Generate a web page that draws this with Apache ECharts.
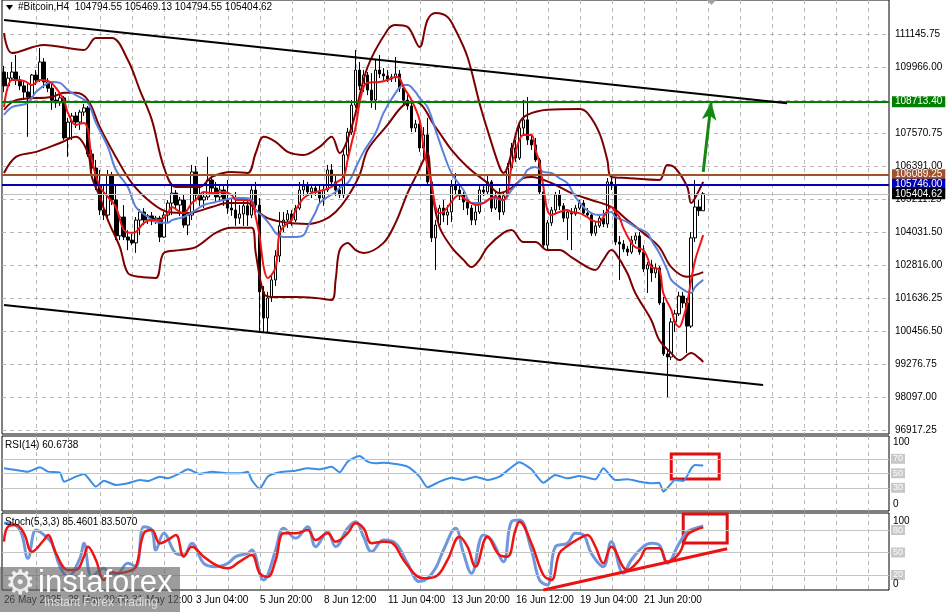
<!DOCTYPE html>
<html><head><meta charset="utf-8">
<script src="https://cdn.jsdelivr.net/npm/echarts@6/dist/echarts.min.js"></script>
<style>html,body{margin:0;padding:0;background:#fff}#c{width:946px;height:612px}</style>
</head><body><div id="c"></div>
<script>
// ---------- DATA ----------
const opens=[109780,109280,109560,109780,109490,109280,109060,108880,109670,109490,
110140,109420,109200,108770,108670,108850,107410,107980,108200,107980,
108340,108490,106830,106330,105680,104820,104640,106080,105180,103890,
104570,103850,103740,103640,104460,104750,104460,104610,104430,104530,
103850,104640,105070,105430,105000,105180,104280,104640,106190,105360,
105180,105290,105900,105610,105290,105540,105180,104890,104820,104530,
104680,104970,104640,105540,105000,101880,100940,101660,102310,103170,
104250,104460,104680,104460,104890,105540,105680,105470,105610,105470,
105250,105540,106260,105830,105540,105360,106800,107620,108590,109850,
109280,109670,109130,108770,109850,109710,109640,109530,109600,109710,
109200,108770,108560,107770,107910,107050,107520,105830,103820,104280,
104890,104640,104750,105680,105540,105360,105110,104890,104460,104750,
105540,105470,105830,104890,105330,104750,105330,106330,107050,106690,
107770,108060,107340,107160,106620,105470,103560,104360,104820,105360,
104970,104530,104750,104680,104890,105070,104710,104640,103990,104250,
104530,104320,105830,105720,103670,103600,103420,103310,103740,103890,
103310,102700,102850,102560,102740,101480,99650,99540,100800,101090,
101730,101480,100650,103820,104930,104794.55];
const highs=[110000,109780,110140,110390,109640,109490,109350,109710,109850,110640,
110280,109560,109350,109060,109060,108920,108130,108310,108340,108420,
108630,108560,106980,106620,106260,105680,106260,106190,105720,104640,
105000,104100,103960,104570,104860,104890,104680,104750,104610,104610,
104750,105180,105790,105540,105290,105360,104640,106440,106400,105610,
105430,106730,106120,105830,105720,105680,105900,105250,105470,105000,
105180,105250,105680,105830,105250,102090,101880,102490,103380,104750,
104750,104820,104820,105000,105830,105900,105830,105760,105760,105720,
105760,106440,106470,106080,105720,106980,107770,108770,110570,110140,
109850,109780,109740,110210,110390,109920,109850,109710,110320,109850,
109350,108950,108700,108060,108000,107800,108130,105900,104460,105000,
105180,105000,105900,106150,105720,105470,105250,105000,105000,105680,
105680,106080,105900,105470,105610,105470,106510,107230,107340,107980,
108770,108880,107520,107410,106690,105610,104460,104930,105470,105540,
105070,104820,104890,105000,105180,105180,104890,104710,104390,104640,
104820,105970,106040,105970,103890,103740,103530,103890,104000,104030,
103560,102950,103030,102900,102810,101700,99790,100940,101230,101880,
101880,101660,104030,105900,105180,105469.13];
const lows=[109060,109130,109490,109310,109130,108770,107450,108770,109310,109420,
109200,109060,108420,108490,108560,107340,106730,107340,107770,107700,
108200,106730,106190,105540,104640,104460,104530,105000,103740,103740,
103740,103380,103560,103280,103920,104280,104320,104280,104320,103670,
103820,104390,104640,104890,104610,104180,103920,104460,105180,104970,
104890,105180,105470,105110,105110,104970,104680,104610,104250,104320,
104250,104250,104530,104750,100400,100400,100440,101520,102090,102950,
104030,104180,104250,104390,104820,105330,105330,105250,105330,105040,
104970,105470,105610,105330,105250,105250,106690,107520,108490,109130,
109060,108950,108490,108420,109560,109490,109420,109420,109420,109060,
108630,108420,107620,107620,106910,106690,105720,103670,102670,104180,
104390,104280,104390,105360,105180,104820,104640,104280,104280,104680,
105330,105360,104750,104820,104460,104640,105250,106260,106550,106620,
107520,107160,106980,106550,105360,103460,103380,104250,104680,104820,
104390,103740,103380,104610,104820,104610,104530,103890,103890,104180,
104210,104180,105540,103560,102310,103310,103170,103240,103600,103210,
102590,101840,102240,102380,101410,99580,98100,99430,100440,101010,
101300,99680,100580,103670,104610,104794.55];
const closes=[109280,109560,109780,109490,109280,109060,108880,109670,109490,110140,
109420,109200,108770,108670,108850,107410,107980,108200,107980,108340,
108490,106830,106330,105680,104820,104640,106080,105180,103890,104570,
103850,103740,103640,104460,104750,104460,104610,104430,104530,103850,
104640,105070,105430,105000,105180,104280,104640,106190,105360,105180,
105290,105900,105610,105290,105540,105180,104890,104820,104530,104680,
104970,104640,105540,105000,101880,100940,101660,102310,103170,104250,
104460,104680,104460,104890,105540,105680,105470,105610,105470,105250,
105540,106260,105830,105540,105360,106800,107620,108590,109850,109280,
109670,109130,108770,109850,109710,109640,109530,109600,109710,109200,
108770,108560,107770,107910,107050,107520,105830,103820,104280,104890,
104640,104750,105680,105540,105360,105110,104890,104460,104750,105540,
105470,105830,104890,105330,104750,105330,106330,107050,106690,107770,
108060,107340,107160,106620,105470,103560,104360,104820,105360,104970,
104530,104750,104680,104890,105070,104710,104640,103990,104250,104530,
104320,105830,105720,103670,103600,103420,103310,103740,103890,103310,
102700,102850,102560,102740,101480,99650,99540,100800,101090,101730,
101480,100650,103820,104930,104794.55,105404.62];

const bbUpper=[[0,111180],[2,110460],[10,110750],[20,110570],[23,111000],[27,111000],[31,110210],[34,109130],[37,108060],[40,106370],[43,105650],[49,105650],[52,106010],[57,106190],[61,106150],[63,106870],[65,107450],[68,107270],[71,106910],[75,106800],[79,107090],[82,107450],[84,106870],[87,107800],[91,109960],[96,111290],[98,111470],[101,111400],[104,110680],[106,111650],[108,111900],[111,111760],[113,111290],[116,110320],[119,108670],[121,107700],[124,106370],[125,106150],[129,107950],[131,108240],[136,108420],[144,108450],[146,108310],[149,107590],[151,106620],[152,106010],[156,105970],[164,105900],[166,106440],[168,106330],[171,105650],[172,105070],[174,105540],[175,105830]];
const bbMiddle=[[0,108420],[3,108770],[12,108880],[15,109030],[18,109030],[21,108770],[24,107800],[28,106730],[32,105790],[37,105070],[41,104750],[46,104710],[52,104930],[56,105070],[61,105070],[63,104820],[66,104530],[71,104360],[76,104320],[80,104460],[83,104750],[86,105290],[89,106080],[91,106980],[96,107880],[100,108590],[103,108700],[108,107800],[112,106980],[116,106370],[121,105790],[124,105430],[127,105610],[130,105970],[132,106010],[137,105790],[142,105430],[147,105180],[152,104930],[156,104460],[160,104000],[164,103490],[167,102770],[171,102420],[173,102490],[175,102590]];
const bbLower=[[0,106150],[3,106730],[8,106910],[14,107230],[18,107450],[21,106870],[22,106010],[24,105290],[26,104460],[29,103490],[31,102560],[34,102420],[38,102380],[40,103280],[44,103380],[48,103490],[53,104000],[57,104180],[62,104180],[63,103280],[65,101840],[67,101700],[73,101700],[78,101660],[82,101590],[83,102310],[84,103380],[86,103640],[88,103380],[90,103280],[95,103640],[98,104360],[101,105430],[103,106010],[105,106620],[106,106870],[107,105650],[109,104210],[112,103490],[115,103030],[117,102770],[119,103030],[121,103490],[125,104000],[127,104100],[130,103670],[133,103670],[136,103380],[139,103380],[142,103130],[146,102770],[148,102670],[150,103030],[152,103380],[153,103280],[156,102560],[158,101840],[162,100870],[164,100150],[167,99680],[169,99430],[172,99680],[174,99500],[175,99360]];
const fastMA=[[0,108520],[2,109490],[5,109460],[7,109310],[9,109490],[11,109460],[13,109210],[15,108770],[16,108310],[18,107880],[20,107950],[21,107700],[22,106620],[24,105650],[26,105290],[28,104930],[30,104100],[32,104000],[33,104030],[35,104360],[37,104460],[39,104460],[41,104710],[42,104930],[44,104750],[45,104710],[47,105070],[48,105180],[50,105470],[52,105430],[55,105470],[57,105360],[58,105180],[60,105180],[62,105110],[63,104570],[64,103850],[65,102770],[66,102380],[68,102770],[69,104000],[71,104360],[72,104460],[73,104820],[75,105250],[77,105430],[78,105470],[80,105540],[82,105650],[83,105790],[85,106010],[86,106620],[87,107230],[88,107800],[89,108670],[90,109240],[91,109390],[94,109420],[96,109490],[98,109600],[99,109560],[100,109240],[102,108770],[104,108060],[105,107090],[106,106370],[107,105790],[108,104930],[109,104710],[110,104750],[112,105110],[113,105290],[114,105360],[115,105250],[117,105070],[118,105000],[120,105070],[121,105180],[123,105290],[125,105180],[126,105430],[127,106370],[128,106870],[129,107340],[130,107520],[132,107520],[133,107000],[134,106510],[135,105650],[136,104820],[137,104640],[139,104750],[141,104820],[142,104750],[144,104710],[146,104570],[147,104460],[149,104390],[150,104570],[152,104930],[153,104750],[154,104570],[155,104180],[157,103640],[158,103490],[160,103380],[161,103130],[162,102770],[164,102670],[165,101840],[167,101230],[168,100760],[169,100620],[170,100940],[171,101480],[172,102310],[173,103030],[174,103490],[175,103920]];
const slowMA=[[0,108240],[2,108520],[6,108670],[8,109060],[11,109390],[12,109420],[14,109390],[16,109130],[18,108950],[21,108670],[23,107950],[26,107090],[28,106260],[31,105650],[33,104930],[36,104570],[38,104390],[41,104360],[42,104460],[44,104530],[45,104570],[48,104820],[50,105000],[53,105110],[55,105180],[58,105250],[60,105250],[62,105180],[63,104820],[65,104570],[67,104210],[68,104000],[70,103850],[73,103850],[75,103920],[76,104210],[78,104750],[79,105070],[81,105290],[83,105470],[84,105610],[86,105790],[87,106010],[88,106330],[90,106910],[93,107590],[95,108310],[98,109030],[100,109310],[101,109310],[103,109060],[104,108850],[106,108520],[108,107700],[110,106870],[112,106150],[115,105540],[117,105070],[120,105070],[122,105250],[125,105180],[127,105540],[130,106010],[131,106260],[133,106370],[135,106190],[137,106150],[139,105970],[141,105790],[143,105290],[145,104930],[147,104710],[149,104640],[152,104750],[153,104570],[156,104390],[158,104210],[161,104000],[162,103740],[164,103280],[166,102670],[167,102310],[169,102060],[171,101880],[172,101840],[173,102060],[175,102310]];
const rsiValues=[[0,56.9],[3,54.6],[6,52.3],[9,58.3],[11,52.3],[14,50.9],[15,38.5],[18,45.4],[20,49.1],[23,31.6],[25,39.9],[28,33.9],[31,36.2],[34,40.8],[36,39.4],[39,45.4],[41,43.1],[44,50],[46,55.5],[49,49.1],[52,52.3],[56,50],[59,50],[61,52.3],[62,40.8],[64,28.8],[66,45.4],[69,51.4],[73,53.7],[76,56.9],[79,55.5],[82,59.2],[84,51.4],[86,66.1],[89,73.9],[91,66.1],[93,63.8],[95,64.7],[98,62.9],[101,59.2],[104,45.4],[106,30.7],[109,38.5],[112,44],[115,40.8],[118,45.4],[121,40.8],[124,45.4],[127,58.3],[129,65.2],[132,55.5],[135,37.1],[138,47.7],[141,43.1],[144,46.3],[148,41.7],[150,56.9],[153,40.8],[156,41.7],[159,38.5],[162,36.2],[164,37.1],[165,24.7],[166,29.3],[168,40.8],[170,39.4],[172,56.9],[173,61.5],[175,60.7]];
const stochMain=[[0,88.9],[1,88.9],[4,80],[6,42.3],[8,80],[10,73.4],[12,62.3],[14,31.1],[16,17.8],[19,42.3],[20,62.3],[22,17.8],[25,28.9],[26,24.5],[28,20],[31,35.6],[33,31.1],[35,84.5],[37,80],[38,53.4],[40,75.6],[43,48.9],[45,46.7],[47,62.3],[50,35.6],[53,31.1],[56,35.6],[58,44.5],[61,48.9],[62,53.4],[65,13.4],[66,20],[68,53.4],[70,82.3],[73,68.9],[76,84.5],[78,57.8],[81,77.8],[83,57.8],[86,82.3],[88,91.1],[90,71.1],[92,51.1],[95,66.7],[98,62.3],[101,35.6],[104,11.2],[106,15.6],[108,28.9],[110,53.4],[113,82.3],[115,48.9],[117,22.3],[120,73.4],[122,66.7],[125,37.8],[127,91.1],[129,93.4],[132,53.4],[134,13.4],[136,6.7],[138,57.8],[141,62.3],[143,75.6],[145,73.4],[147,48.9],[150,31.1],[152,64.5],[155,22.3],[157,40],[160,57.8],[162,62.3],[164,60],[166,35.6],[169,62.3],[171,77.8],[173,82.3],[175,85.46]];
const stochSignal=[[0,64.5],[1,84.5],[3,86.7],[5,75.6],[7,51.1],[10,66.7],[11,73.4],[13,48.9],[16,26.7],[18,26.7],[20,44.5],[21,57.8],[23,40],[25,13.4],[27,24.5],[28,22.3],[31,24.5],[33,31.1],[35,75.6],[37,80],[39,62.3],[41,66.7],[43,73.4],[45,44.5],[47,57.8],[50,44.5],[53,33.4],[56,28.9],[59,37.8],[62,46.7],[64,22.3],[66,17.8],[68,40],[70,75.6],[73,75.6],[76,80],[78,66.7],[81,75.6],[83,64.5],[86,75.6],[88,88.9],[90,82.3],[92,62.3],[95,64.5],[97,63.1],[100,40],[103,20],[105,15.6],[108,17.8],[111,40],[114,71.1],[116,57.8],[118,31.1],[121,71.1],[124,46.7],[126,44.5],[128,80],[129,91.1],[132,62.3],[135,20],[137,13.4],[139,48.9],[141,58.7],[144,68.9],[146,73.4],[148,57.8],[150,35.6],[152,57.8],[156,26.7],[159,40],[161,55.6],[164,55.6],[166,37.8],[169,48.9],[171,73.4],[173,80],[175,83.51]];

const priceTickLabels=['96917.25','98097.00','99276.75','100456.50','101636.25','102816.00','104031.50','105211.25','106391.00','107570.75','','109966.00','111145.75',''];
const dateTickLabels=['26 May 2025','28 May 20:00','31 May 12:00','3 Jun 04:00','5 Jun 20:00','8 Jun 12:00','11 Jun 04:00','13 Jun 20:00','16 Jun 12:00','19 Jun 04:00','21 Jun 20:00'];
const rsiLevels=[70,50,30];
const stochLevels=[80,50,20];
const targetLevel=108713.40, resistLevel=106089.25, pivotLevel=105746.00, lastPrice=105404.62;
const upperTrend=[[0,111650],[196,108660]];
const lowerTrend=[[0,101410],[190,98530]];
const targetArrow=[[175,106190],[177,108700]];
const stochTrend=[[135,0],[181,55]];
const rsiBox=[[167,76.7],[179,42.2]];
const stochBox=[[170,101.4],[181,62.7]];
const headerText='#Bitcoin,H4  104794.55 105469.13 104794.55 105404.62';
const rsiTitle='RSI(14) 60.6738';
const stochTitle='Stoch(5,3,3) 85.4601 83.5070';
const oscScaleLabels=['100','0'];

// ---------- CHART ----------
const SLOTS=222;
const cats=Array.from({length:SLOTS},(_,i)=>String(i));
const candles=opens.map((o,i)=>[o,closes[i],lows[i],highs[i]]);
const FONT='Liberation Sans';
const dashedX={show:true,showMinLine:false,showMaxLine:false,lineStyle:{color:'#b8b8b8',type:[4,4],width:1}};
const dashedY={show:true,showMinLine:true,showMaxLine:false,lineStyle:{color:'#b8b8b8',type:[4,4],width:1}};
const hid={show:false};
function catAxis(g){return {type:'category',gridIndex:g,data:cats,show:false};}
function vAxis(g,withLabels){return {type:'value',gridIndex:g,min:0,max:221.25,interval:8,
  axisLine:hid,axisTick:hid,splitLine:dashedX,
  axisLabel:withLabels?{show:true,align:'left',margin:5,fontSize:10,color:'#000',fontFamily:FONT,showMinLabel:true,showMaxLabel:false,
    formatter:v=>(v%16===0&&dateTickLabels[v/16])||''}:hid};}
function hLine(val,col){return {yAxis:val,lineStyle:{color:col,width:2,type:'solid'},
  label:{show:true,position:'end',distance:3,formatter:p=>p.value.toFixed(2),backgroundColor:col,color:'#fff',padding:[1,3,0,3],fontSize:10,fontFamily:FONT}};}
function seg(pts,col,w,extraEnd){const a={coord:pts[0],lineStyle:{color:col,width:w,type:'solid'},label:{show:false}};
  const b=Object.assign({coord:pts[1],lineStyle:{color:col,width:w,type:'solid'},label:{show:false}},extraEnd||{});return [a,b];}
function levelLine(v){return {yAxis:v,lineStyle:{color:'#c4c4c4',width:1,type:'solid'},
  label:{show:true,position:'end',distance:2,formatter:String(v),backgroundColor:'#c8c8c8',color:'#fff',padding:[1,2,0,2],fontSize:9,fontFamily:FONT}};}
function lineS(data,col,w,xi,yi,z){return {type:'line',data:data,xAxisIndex:xi,yAxisIndex:yi,showSymbol:false,smooth:0.35,
  lineStyle:{color:col,width:w},itemStyle:{color:col},z:z||3,silent:true};}

const option={
  animation:false,
  textStyle:{fontFamily:FONT},
  grid:[
    {left:2,top:0,width:887,height:434,show:true,borderColor:'#000',borderWidth:1,backgroundColor:'#fff'},
    {left:4,top:0,width:885,height:434,show:false},
    {left:2,top:436,width:887,height:75,show:true,borderColor:'#000',borderWidth:1,backgroundColor:'#fff'},
    {left:4,top:436,width:885,height:75,show:false},
    {left:2,top:513,width:887,height:77,show:true,borderColor:'#000',borderWidth:1,backgroundColor:'#fff'},
    {left:4,top:513,width:885,height:77,show:false},
    {left:2,top:1,width:887,height:429,show:false}
  ],
  xAxis:[catAxis(0),vAxis(1,false),catAxis(2),vAxis(3,false),catAxis(4),vAxis(5,true),
    {type:'value',gridIndex:6,show:false,min:0,max:1}],
  yAxis:[
    {type:'value',gridIndex:0,min:96773,max:112367,show:false},
    {type:'value',gridIndex:1,min:0,max:1,show:false},
    {type:'value',gridIndex:2,min:-2,max:101.5,show:false},
    {type:'value',gridIndex:3,min:0,max:1,show:false},
    {type:'value',gridIndex:4,min:0,max:102.7,show:false},
    {type:'value',gridIndex:5,min:0,max:1,show:false},
    {type:'value',gridIndex:6,position:'right',min:0,max:13,interval:1,axisLine:hid,axisTick:hid,splitLine:dashedY,
      axisLabel:{show:true,margin:6,fontSize:10,color:'#000',fontFamily:FONT,formatter:v=>priceTickLabels[v]||''}}
  ],
  series:[
    {type:'candlestick',xAxisIndex:0,yAxisIndex:0,data:candles,barWidth:3,z:2,silent:true,
     itemStyle:{color:'#ffffff',color0:'#000000',borderColor:'#000000',borderColor0:'#000000',borderWidth:1}},
    lineS(bbUpper,'#7d0000',2,0,0),
    lineS(bbMiddle,'#7d0000',2,0,0),
    lineS(bbLower,'#7d0000',2,0,0),
    lineS(slowMA,'#5b80dc',2,0,0),
    lineS(fastMA,'#f01414',2,0,0),
    {type:'line',xAxisIndex:0,yAxisIndex:0,data:[],z:5,silent:true,
     markLine:{silent:true,symbol:'none',animation:false,precision:2,
      data:[
        hLine(targetLevel,'#008000'),
        hLine(resistLevel,'#a0522d'),
        hLine(pivotLevel,'#0000b4'),
        Object.assign(hLine(lastPrice,'#000000'),{lineStyle:{color:'#c0c0c0',width:1,type:'solid'}}),
        seg(upperTrend,'#000',2),
        seg(lowerTrend,'#000',2),
        seg(targetArrow,'#128a12',3,{symbol:'arrow',symbolSize:[11,18]})
      ]}},
    Object.assign(lineS(rsiValues,'#3a8ee6',2,2,2,4),{smooth:0.2,
      markLine:{silent:true,symbol:'none',animation:false,data:rsiLevels.map(levelLine)},
      markArea:{silent:true,data:[[{coord:rsiBox[0]},{coord:rsiBox[1]}]],
        itemStyle:{color:'rgba(0,0,0,0)',borderColor:'#e01010',borderWidth:3}}}),
    Object.assign(lineS(stochMain,'#6f97dc',3,4,4,4),{smooth:0.4,
      markLine:{silent:true,symbol:'none',animation:false,data:stochLevels.map(levelLine).concat([seg(stochTrend,'#ee1111',3)])},
      markArea:{silent:true,data:[[{coord:stochBox[0]},{coord:stochBox[1]}]],
        itemStyle:{color:'rgba(0,0,0,0)',borderColor:'#e01010',borderWidth:3}}}),
    Object.assign(lineS(stochSignal,'#ee1414',2.5,4,4,5),{smooth:0.4})
  ],
  graphic:[
    {type:'polygon',shape:{points:[[6,5],[13,5],[9.5,10]]},style:{fill:'#000'},z:50},
    {type:'polygon',shape:{points:[[707,0],[716,0],[711.5,5]]},style:{fill:'#a0a0a0'},z:50},
    {type:'text',x:18,y:2,style:{text:headerText,font:'10px "'+FONT+'"',fill:'#000'},z:50},
    {type:'text',x:5,y:440,style:{text:rsiTitle,font:'10px "'+FONT+'"',fill:'#000'},z:50},
    {type:'text',x:5,y:517,style:{text:stochTitle,font:'10px "'+FONT+'"',fill:'#000'},z:50},
    {type:'text',x:893,y:437,style:{text:oscScaleLabels[0],font:'10px "'+FONT+'"',fill:'#000'},z:50},
    {type:'text',x:893,y:499,style:{text:oscScaleLabels[1],font:'10px "'+FONT+'"',fill:'#000'},z:50},
    {type:'text',x:893,y:516,style:{text:oscScaleLabels[0],font:'10px "'+FONT+'"',fill:'#000'},z:50},
    {type:'text',x:893,y:579,style:{text:oscScaleLabels[1],font:'10px "'+FONT+'"',fill:'#000'},z:50},
    {type:'rect',shape:{x:0,y:567,width:180,height:45},style:{fill:'rgba(95,95,95,0.62)'},z:90},
    {type:'text',x:5,y:568,style:{text:'\u2699',font:'34px "DejaVu Sans"',fill:'rgba(255,255,255,0.85)'},z:91},
    {type:'text',x:38,y:568,style:{text:'instaforex',font:'31px "'+FONT+'"',fill:'#ffffff'},z:91},
    {type:'text',x:44,y:597,style:{text:'Instant Forex Trading',font:'12px "'+FONT+'"',fill:'#dddddd'},z:91}
  ]
};
const chart=echarts.init(document.getElementById('c'),null,{renderer:'canvas'});
chart.setOption(option);
</script>
</body></html>
